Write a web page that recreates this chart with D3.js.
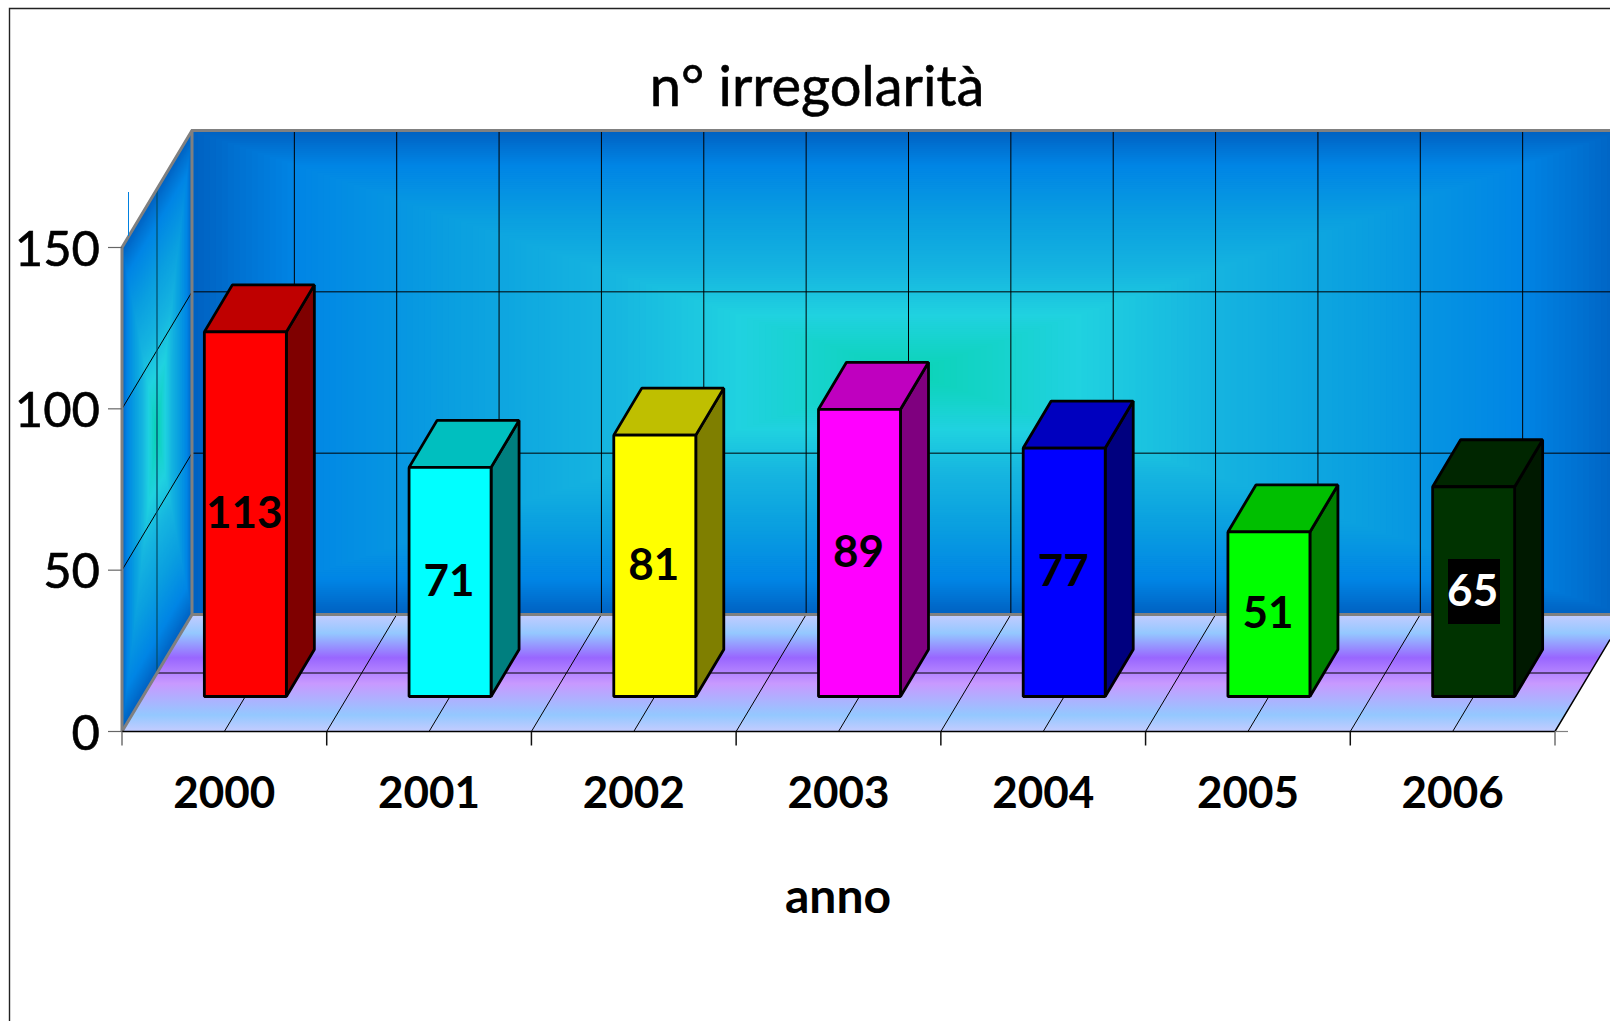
<!DOCTYPE html>
<html lang="it">
<head>
<meta charset="UTF-8">
<title>n° irregolarità</title>
<script src="https://cdn.jsdelivr.net/npm/d3@7/dist/d3.min.js"></script>
<style>
  * { margin: 0; padding: 0; }
  html, body { width: 100%; height: 100%; background: #fff; overflow: hidden; }
  svg { display: block; }
  text { font-family: Lato, "Open Sans", sans-serif; fill: #000; }
</style>
</head>
<body>
<div id="box"></div>
<script>
  // dati
  var anni = ['2000', '2001', '2002', '2003', '2004', '2005', '2006']
  var irregolarita = [113, 71, 81, 89, 77, 51, 65]
  var coloriFronte = ['#ff0000', '#00ffff', '#ffff00', '#ff00ff', '#0000ff', '#00ff00', '#003300']
  var coloriSopra = ['#bf0000', '#00bfbf', '#bfbf00', '#bf00bf', '#0000bf', '#00bf00', '#002600']
  var coloriLato = ['#7f0000', '#007f7f', '#7f7f00', '#7f007f', '#00007f', '#007f00', '#001900']
  var tickY = [0, 50, 100, 150]

  var width = 1610
  var height = 1021
  var svg = d3.select('#box').append('svg').attr('width', width).attr('height', height)

  // cornice
  svg.append('path').attr('d', 'M9.5,1021V8.5H1610').attr('fill', 'none').attr('stroke', '#222').attr('stroke-width', 1.4)

  // scale
  var x = d3.scaleBand().domain(anni).range([122, 1555]).paddingInner(0).paddingOuter(0)
  var y = d3.scaleLinear().domain([0, 150]).range([731.5, 247.5])
  var depthX = 70, depthY = 117

  var defs = svg.append('defs')

  // gradiente a bande del pavimento
  var floorStops = [[0, '#c4ccff'], [0.16, '#94c8ff'], [0.37, '#9966ff'], [0.59, '#c899ff'], [0.86, '#94c8ff'], [1, '#c4ccff']]
  var fg = defs.append('linearGradient').attr('id', 'floorGrad').attr('x1', 0).attr('x2', 0).attr('y1', 0).attr('y2', 1)
  floorStops.forEach(function (s) { fg.append('stop').attr('offset', s[0]).attr('stop-color', s[1]) })

  // gradiente rettangolare della parete: rettangoli annidati
  var wallColor = d3.scaleLinear()
    .domain([0, 0.14, 0.36, 0.58, 0.76, 1])
    .range(['#0062c2', '#0085e5', '#0a9fe0', '#16b5e0', '#20d2e0', '#0ad4b4'])
    .interpolate(d3.interpolateRgb)

  function rectGradient(g, x0, y0, w, h, steps) {
    d3.range(steps).forEach(function (i) {
      var t = i / steps
      g.append('rect')
        .attr('x', x0 + t * w * 0.5).attr('y', y0 + t * h * 0.5)
        .attr('width', w * (1 - t)).attr('height', h * (1 - t))
        .attr('fill', wallColor(t))
    })
  }

  // parete di fondo
  var backX = x.range()[0] + depthX
  var backTop = y(150) - depthY, backBottom = y(0) - depthY
  var backW = x.range()[1] - x.range()[0]
  rectGradient(svg.append('g'), backX, backTop, backW, backBottom - backTop, 120)

  // parete laterale (parallelogramma)
  var side = svg.append('g')
    .attr('transform', 'translate(' + x.range()[0] + ',' + y(150) + ') skewY(' + (-Math.atan(depthY / depthX) * 180 / Math.PI) + ')')
  rectGradient(side, 0, 0, depthX, y(0) - y(150), 120)

  // pavimento
  var floorPts = [[122, y(0)], [1555, y(0)], [1555 + depthX, backBottom], [122 + depthX, backBottom]]
  svg.append('polygon').attr('points', floorPts.join(' ')).attr('fill', 'url(#floorGrad)')

  // griglia
  var grid = svg.append('g').attr('stroke', '#000').attr('stroke-width', 1).attr('fill', 'none')
  var step = x.step() / 2
  d3.range(1, 14).forEach(function (i) {
    var gx = 122 + i * step
    grid.append('line').attr('x1', gx).attr('y1', y(0)).attr('x2', gx + depthX).attr('y2', backBottom)
    grid.append('line').attr('x1', gx + depthX).attr('y1', backBottom).attr('x2', gx + depthX).attr('y2', backTop)
  })
  ;[50, 100].forEach(function (v) {
    grid.append('line').attr('x1', 122).attr('y1', y(v)).attr('x2', 122 + depthX).attr('y2', y(v) - depthY)
    grid.append('line').attr('x1', 122 + depthX).attr('y1', y(v) - depthY).attr('x2', 1610).attr('y2', y(v) - depthY)
  })
  grid.append('line').attr('x1', 122 + depthX / 2).attr('y1', y(150) - depthY / 2).attr('x2', 122 + depthX / 2).attr('y2', y(0) - depthY / 2).attr('stroke', '#04506e').attr('stroke-width', 1.3)
  grid.append('line').attr('x1', 122 + depthX / 2).attr('y1', y(0) - depthY / 2).attr('x2', 1555 + depthX / 2).attr('y2', y(0) - depthY / 2)

  // bordi grigi
  var border = svg.append('g').attr('stroke', '#808080').attr('stroke-width', 3).attr('fill', 'none')
  border.append('path').attr('d', 'M122,' + y(0) + 'V' + y(150) + 'L' + (122 + depthX) + ',' + backTop + 'H1610')
  border.append('path').attr('d', 'M122,' + y(0) + 'L' + (122 + depthX) + ',' + backBottom + 'V' + backTop)
  border.append('path').attr('d', 'M' + (122 + depthX) + ',' + backBottom + 'H1610')
  svg.append('path').attr('d', 'M122,' + y(0) + 'H1555L1610,' + (y(0) - 55 * depthY / depthX)).attr('fill', 'none').attr('stroke', '#000').attr('stroke-width', 1.5)

  // trattino azzurro sopra il 150
  svg.append('line').attr('x1', 128.5).attr('x2', 128.5).attr('y1', 192).attr('y2', 236).attr('stroke', '#0080e0').attr('stroke-width', 1)

  // assi
  var yAxis = svg.append('g')
  tickY.forEach(function (t) {
    yAxis.append('line').attr('x1', 108).attr('x2', 122).attr('y1', y(t)).attr('y2', y(t)).attr('stroke', '#666').attr('stroke-width', 1.2)
    yAxis.append('text').attr('x', 100).attr('y', y(t) + 18).attr('text-anchor', 'end').attr('font-size', 49)
      .style('stroke', '#000').style('stroke-width', 0.6).text(t)
  })
  var xAxis = svg.append('g')
  d3.range(0, 8).forEach(function (i) {
    var tx = 122 + i * x.step()
    xAxis.append('line').attr('x1', tx).attr('x2', tx).attr('y1', y(0)).attr('y2', y(0) + 14)
      .attr('stroke', i === 0 || i === 7 ? '#707070' : '#111').attr('stroke-width', 1.5)
  })
  svg.append('line').attr('x1', 1555).attr('x2', 1568).attr('y1', y(0)).attr('y2', y(0)).attr('stroke', '#808080').attr('stroke-width', 1.2)
  anni.forEach(function (a) {
    svg.append('text').attr('x', x(a) + x.step() / 2).attr('y', 808).attr('text-anchor', 'middle')
      .attr('font-size', 44).attr('font-weight', 700).text(a)
  })

  // barre
  var barW = 82, frontDx = 21, frontDy = 35, barDx = 28, barDy = 47
  var bars = svg.selectAll('g.bar').data(anni).enter().append('g').attr('class', 'bar')
    .attr('stroke', '#000').attr('stroke-width', 2.8).attr('stroke-linejoin', 'bevel')
  bars.each(function (a, i) {
    var g = d3.select(this)
    var v = irregolarita[i]
    var x0 = x(a) + x.step() / 2 - barW / 2 + frontDx
    var yB = y(0) - frontDy
    var yT = y(v) - frontDy
    g.append('polygon').attr('fill', coloriLato[i])
      .attr('points', [[x0 + barW, yB], [x0 + barW + barDx, yB - barDy], [x0 + barW + barDx, yT - barDy], [x0 + barW, yT]].join(' '))
    g.append('polygon').attr('fill', coloriSopra[i])
      .attr('points', [[x0, yT], [x0 + barDx, yT - barDy], [x0 + barW + barDx, yT - barDy], [x0 + barW, yT]].join(' '))
    g.append('rect').attr('fill', coloriFronte[i]).attr('x', x0).attr('y', yT).attr('width', barW).attr('height', yB - yT)
  })

  // etichette dati
  anni.forEach(function (a, i) {
    var v = irregolarita[i]
    var cx = x(a) + x.step() / 2 + frontDx - 1
    var cy = (y(v) + y(0)) / 2 - frontDy
    if (i === 6) {
      svg.append('rect').attr('x', 1448).attr('y', 559).attr('width', 52).attr('height', 65).attr('fill', '#000')
    }
    svg.append('text').attr('x', cx).attr('y', cy + 14).attr('text-anchor', 'middle')
      .attr('font-size', 44).attr('font-weight', 700).style('fill', i === 6 ? '#fff' : '#000').text(v)
  })

  // titoli
  svg.append('text').attr('x', 817).attr('y', 106).attr('text-anchor', 'middle').attr('font-size', 56)
    .style('stroke', '#000').style('stroke-width', 0.6).text('n° irregolarità')
  svg.append('text').attr('x', 838).attr('y', 913).attr('text-anchor', 'middle').attr('font-size', 48).attr('font-weight', 700).text('anno')
</script>
</body>
</html>
